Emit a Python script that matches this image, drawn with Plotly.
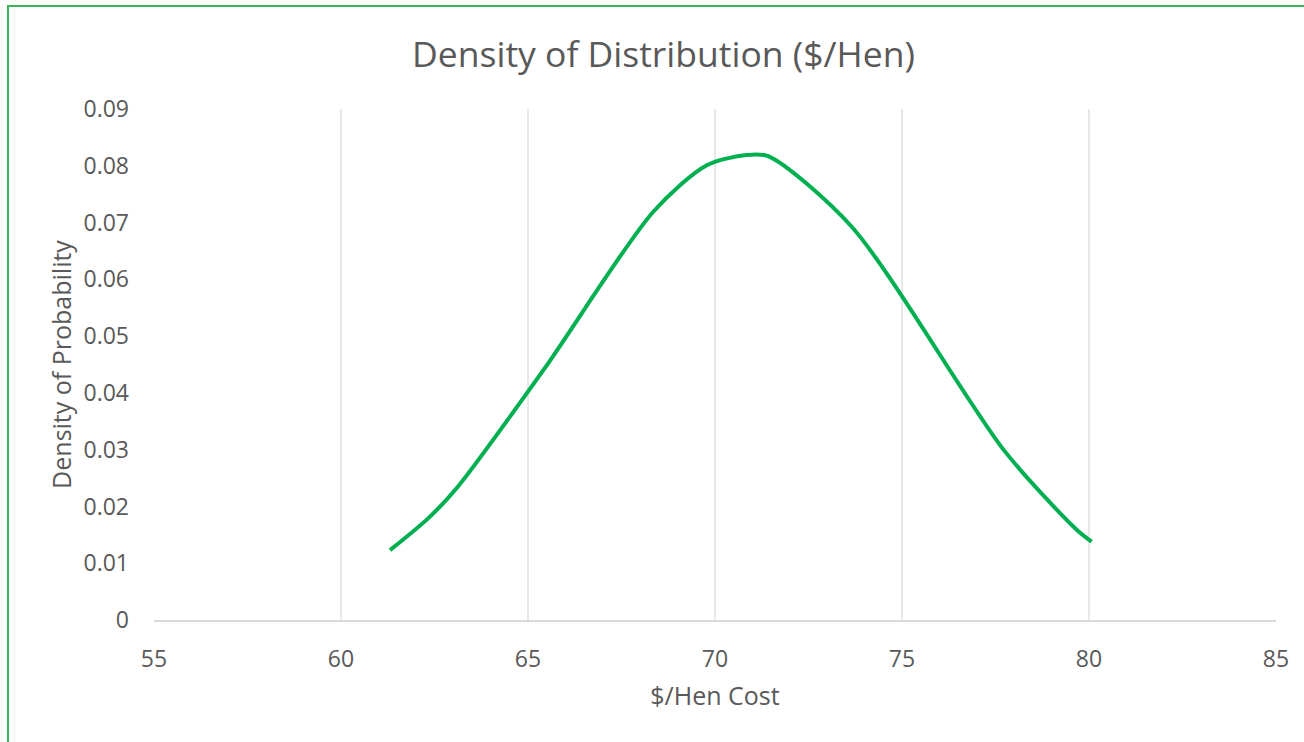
import plotly.graph_objects as go

cost = [61.31, 62.33, 63.09, 65.41, 68.35, 69.78, 70.84, 71.42, 73.65, 77.75, 79.67, 80.07]
density = [0.0123, 0.0179, 0.0232, 0.0440, 0.0719, 0.0801, 0.0819, 0.0817, 0.0693, 0.0297,
           0.0159, 0.0138]

x_ticks = [55, 60, 65, 70, 75, 80, 85]
y_ticks = [0, 0.01, 0.02, 0.03, 0.04, 0.05, 0.06, 0.07, 0.08, 0.09]
y_ticktext = ["0", "0.01", "0.02", "0.03", "0.04", "0.05", "0.06", "0.07", "0.08", "0.09"]

FONT = "Open Sans, Noto Sans, sans-serif"
TXT = "#595959"

fig = go.Figure()
fig.add_trace(go.Scatter(x=cost, y=density, mode="lines",
                         line=dict(color="#00B050", width=4, shape="spline", smoothing=0.8),
                         showlegend=False, hoverinfo="x+y"))

fig.update_layout(
    width=1304, height=742,
    margin=dict(l=154, r=28, t=109, b=122),
    paper_bgcolor="white", plot_bgcolor="white",
    font=dict(family=FONT, color=TXT),
    title=dict(text="Density of Distribution ($/Hen)", x=663.5 / 1304, xanchor="center",
               y=1 - 55 / 742, yanchor="middle",
               font=dict(size=35.5, color=TXT, family=FONT)),
    xaxis=dict(range=[55, 85], tickvals=x_ticks, showgrid=True, gridcolor="#e8e8e8",
               gridwidth=1.5, zeroline=False, showline=True, linecolor="#d9d9d9", linewidth=1.5,
               tickfont=dict(size=23, color=TXT), ticklabelstandoff=18,
               title=dict(text="$/Hen Cost", font=dict(size=25, color=TXT), standoff=14)),
    yaxis=dict(range=[0, 0.09], tickvals=y_ticks, ticktext=y_ticktext, showgrid=False,
               zeroline=False, showline=False, tickfont=dict(size=23, color=TXT),
               ticklabelstandoff=24,
               title=dict(text="Density of Probability", font=dict(size=25, color=TXT), standoff=4)),
    shapes=[dict(type="rect", xref="paper", yref="paper",
                 x0=(8 - 154) / 1122, x1=(1320 - 154) / 1122,
                 y0=(620 - 760) / 511, y1=(620 - 6) / 511,
                 line=dict(color="#3CB55A", width=2), fillcolor="rgba(0,0,0,0)", layer="below")],
)

fig.write_html("out.html", config={"displayModeBar": False},
               post_script="document.body.style.margin='0';document.body.style.overflow='hidden';")
